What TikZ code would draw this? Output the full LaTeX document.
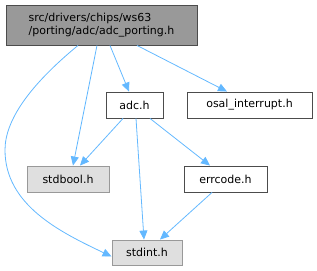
\documentclass[tikz,border=0pt]{standalone}
\usepackage{fontspec}
\setmainfont{DejaVu Sans}
\usepackage{tikz}
\usetikzlibrary{arrows.meta,positioning}
\definecolor{edgeblue}{HTML}{63B8FF}

\begin{document}
\begin{tikzpicture}[x=1pt, y=-1pt,
    file/.style={draw=gray!60!black, fill=white, inner sep=0pt, font=\fontsize{11}{13}\selectfont, minimum height=26pt, line width=0.9pt},
    sysfile/.style={file, draw=gray!80, fill=gray!25},
    inc/.style={-{Triangle[length=9pt, width=8pt]}, edgeblue, line width=0.8pt}
]
    \useasboundingbox (0,0) rectangle (317,271);

    % Main file
    \node[file, fill=gray!80, minimum width=191pt, minimum height=40pt, align=left] (porting) at (101.5,25) {src/drivers/chips/ws63\\/porting/adc/adc\_porting.h};

    % Included headers
    \node[file, minimum width=57pt] (adc) at (134.5,105) {adc.h};
    \node[file, minimum width=125pt] (osal) at (249.5,105) {osal\_interrupt.h};
    \node[sysfile, minimum width=82pt] (stdbool) at (68,179) {stdbool.h};
    \node[file, minimum width=83pt] (errcode) at (225.5,179) {errcode.h};
    \node[sysfile, minimum width=70pt, minimum height=25pt] (stdint) at (147,252.5) {stdint.h};

    % Arrows
    \draw[inc] ([xshift=-23.5pt]porting.south) .. controls (30,85) and (5,120) .. (5,150) .. controls (5,205) and (60,232) .. ([yshift=-4pt]stdint.west);
    \draw[inc] ([xshift=-4.5pt]porting.south) -- ([xshift=5pt]stdbool.north);
    \draw[inc] ([xshift=8.5pt]porting.south) -- ([xshift=-5.5pt]adc.north);
    \draw[inc] ([xshift=35.5pt]porting.south) -- ([xshift=-22.5pt]osal.north);
    \draw[inc] ([xshift=-11.5pt]adc.south) -- ([xshift=12pt]stdbool.north);
    \draw[inc] ([xshift=1.5pt]adc.south) -- ([xshift=-3pt]stdint.north);
    \draw[inc] ([xshift=15.5pt]adc.south) -- ([xshift=-15.5pt]errcode.north);
    \draw[inc] ([xshift=-13.5pt]errcode.south) -- ([xshift=13pt]stdint.north);
\end{tikzpicture}
\end{document}
